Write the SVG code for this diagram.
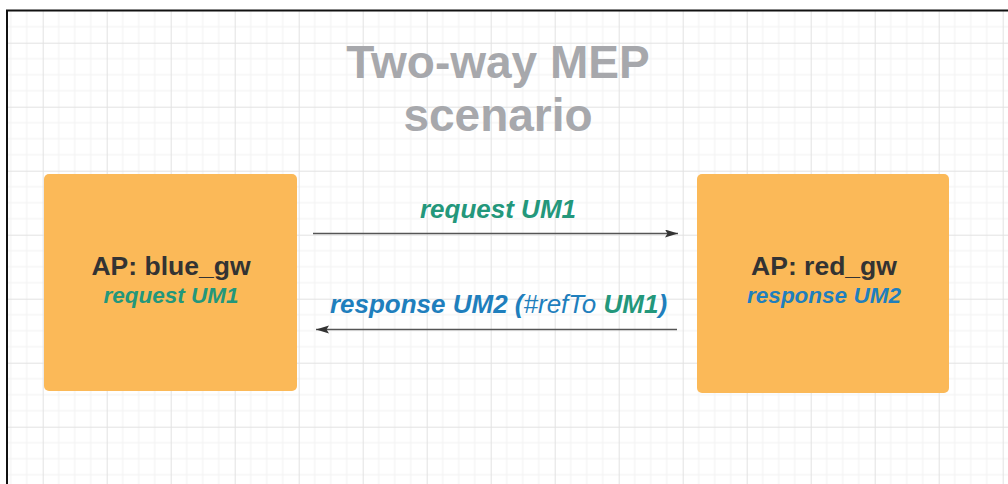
<svg xmlns="http://www.w3.org/2000/svg" width="1008" height="484" viewBox="0 0 1008 484">
  <defs>
    <pattern id="grid" patternUnits="userSpaceOnUse" x="-21.3" y="-21.3" width="64" height="64">
      <path d="M16 0V64M32 0V64M48 0V64M0 16H64M0 32H64M0 48H64" stroke="#f1f1f1" stroke-width="1" fill="none"/>
      <path d="M0.5 0V64M0 0.5H64" stroke="#e2e2e2" stroke-width="1" fill="none"/>
    </pattern>
    <marker id="arrow" markerUnits="userSpaceOnUse" markerWidth="14" markerHeight="10" refX="13" refY="4" orient="auto">
      <path d="M0,0 L13,4 L0,8 L2.5,4 Z" fill="#333"/>
    </marker>
    <style>
      .box { fill: #fbb958; }
      .t { font-family: "Liberation Sans", Arial, sans-serif; text-anchor: middle; }
      .title { font-size: 46px; font-weight: bold; fill: #a7a8ac; }
      .name { font-size: 26.5px; font-weight: bold; fill: #333333; }
      .sub { font-size: 22.5px; font-weight: bold; font-style: italic; }
      .lbl { font-size: 26px; font-weight: bold; font-style: italic; }
      .green { fill: #23977b; }
      .blue { fill: #1f7fbd; }
      .conn { stroke: #555; stroke-width: 1.3; fill: none; marker-end: url(#arrow); }
    </style>
  </defs>
  <rect x="0" y="0" width="1008" height="484" fill="#ffffff"/>
  <rect x="7" y="10" width="1001" height="474" fill="url(#grid)"/>
  <path d="M6 10.5H1008" stroke="#111" stroke-width="2"/>
  <path d="M7 10V484" stroke="#111" stroke-width="2"/>

  <g id="title">
    <text class="t title" x="498" y="78">Two-way MEP</text>
    <text class="t title" x="498" y="131">scenario</text>
  </g>

  <g id="blue_gw">
    <rect class="box" x="44" y="174" width="253" height="217" rx="5"/>
    <text class="t name" x="171" y="275">AP: blue_gw</text>
    <text class="t sub green" x="171" y="303">request UM1</text>
  </g>

  <g id="red_gw">
    <rect class="box" x="697" y="174" width="252" height="219" rx="5"/>
    <text class="t name" x="824" y="275">AP: red_gw</text>
    <text class="t sub blue" x="824" y="303">response UM2</text>
  </g>

  <g id="connectors">
    <path class="conn" d="M313 233.5H678"/>
    <text class="t lbl green" x="498" y="218">request UM1</text>
    <path class="conn" d="M677 329.5H316"/>
    <text class="t lbl blue" x="498.5" y="313">response UM2 (<tspan font-weight="normal">#refTo</tspan><tspan class="green"> UM1</tspan>)</text>
  </g>
</svg>
